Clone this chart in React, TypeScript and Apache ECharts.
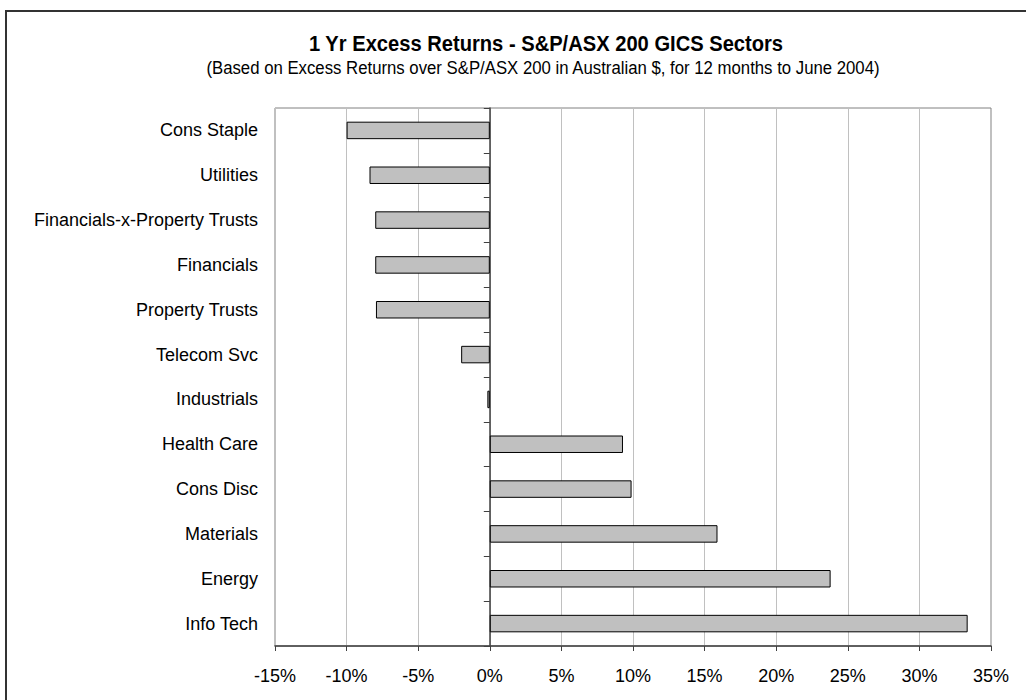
import React, { useEffect, useRef } from "react";
import * as echarts from "echarts";

const categories = [
  "Cons Staple",
  "Utilities",
  "Financials-x-Property Trusts",
  "Financials",
  "Property Trusts",
  "Telecom Svc",
  "Industrials",
  "Health Care",
  "Cons Disc",
  "Materials",
  "Energy",
  "Info Tech",
];
const excessReturns = [-10.0, -8.4, -8.0, -8.0, -7.95, -2.0, -0.17, 9.3, 9.9, 15.9, 23.8, 33.37];
const xMin = -15;
const xMax = 35;
const xStep = 5;

const titleText = "1 Yr Excess Returns - S&P/ASX 200 GICS Sectors";
const subtitleText =
  "(Based on Excess Returns over S&P/ASX 200 in Australian $, for 12 months to June 2004)";

const FONT = "'Liberation Sans', Arial, sans-serif";

export default function App() {
  const ref = useRef<HTMLDivElement>(null);
  useEffect(() => {
    if (!ref.current) return;
    const chart = echarts.init(ref.current, null, { renderer: "svg" });
    chart.setOption({
      animation: false,
      backgroundColor: "#ffffff",
      textStyle: { fontFamily: FONT },
      graphic: [
        {
          type: "rect",
          shape: { x: 6, y: 11, width: 1040, height: 720 },
          style: { fill: "none", stroke: "#333333", lineWidth: 2 },
          silent: true,
        },
        {
          type: "text",
          x: 546,
          y: 43.5,
          scaleX: 0.916,
          style: {
            text: titleText,
            fontFamily: FONT,
            fontSize: 22,
            fontWeight: "bold",
            fill: "#000",
            align: "center",
            verticalAlign: "middle",
          },
        },
        {
          type: "text",
          x: 543,
          y: 68,
          scaleX: 0.906,
          style: {
            text: subtitleText,
            fontFamily: FONT,
            fontSize: 18.5,
            fill: "#000",
            align: "center",
            verticalAlign: "middle",
          },
        },
      ],
      grid: {
        left: 275,
        top: 108,
        right: 35,
        bottom: 54,
        show: true,
        borderColor: "#808080",
        borderWidth: 1,
        containLabel: false,
      },
      xAxis: {
        type: "value",
        min: xMin,
        max: xMax,
        interval: xStep,
        axisLine: { show: true, lineStyle: { color: "#404040", width: 1.5 } },
        axisTick: { show: true, length: 5, lineStyle: { color: "#404040" } },
        splitLine: { show: true, lineStyle: { color: "#c0c0c0", width: 1 } },
        axisLabel: {
          formatter: "{value}%",
          color: "#000",
          fontSize: 18,
          fontFamily: FONT,
          margin: 21,
        },
      },
      yAxis: [
        {
          type: "category",
          data: categories,
          inverse: true,
          position: "left",
          axisLine: { show: false, onZero: false },
          axisTick: { show: false },
          splitLine: { show: false },
          axisLabel: { color: "#000", fontSize: 18, fontFamily: FONT, margin: 17 },
        },
        {
          type: "category",
          data: categories,
          inverse: true,
          position: "left",
          axisLine: { show: true, onZero: true, lineStyle: { color: "#404040", width: 1.5 } },
          axisTick: { show: true, length: 6, lineStyle: { color: "#404040" } },
          axisLabel: { show: false },
          splitLine: { show: false },
        },
      ],
      series: [
        {
          type: "bar",
          yAxisIndex: 0,
          data: excessReturns,
          barWidth: "39%",
          itemStyle: { color: "#c0c0c0", borderColor: "#000", borderWidth: 1 },
          z: 1,
        },
      ],
    });
    return () => chart.dispose();
  }, []);
  return (
    <div
      ref={ref}
      style={{ position: "fixed", left: 0, top: 0, width: 1026, height: 700, background: "#fff" }}
    />
  );
}
